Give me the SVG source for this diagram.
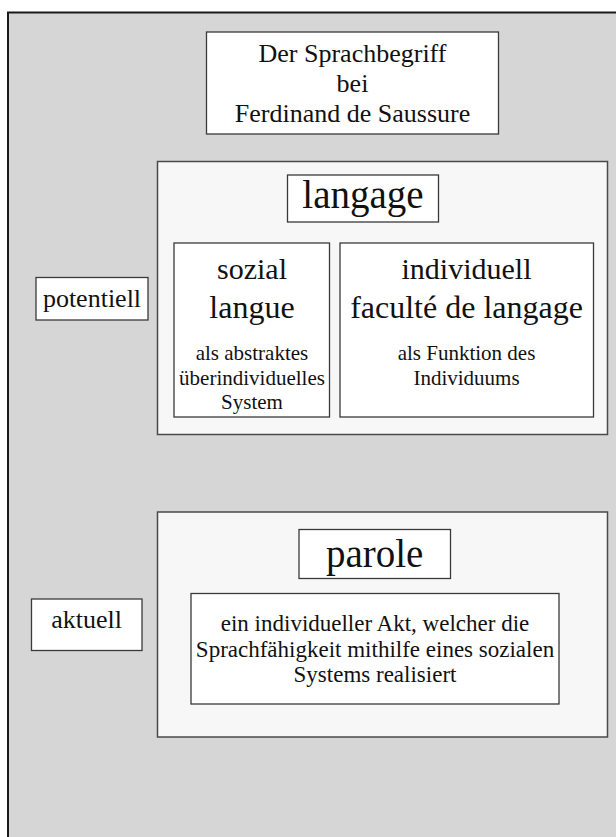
<svg xmlns="http://www.w3.org/2000/svg" width="616" height="837" viewBox="0 0 616 837">
  <style>
    .frame { fill: #d6d6d6; stroke: #1a1a1a; stroke-width: 2; }
    .panel { fill: #f7f7f7; stroke: #4a4a4a; stroke-width: 1.5; }
    .box { fill: #ffffff; stroke: #3a3a3a; stroke-width: 1.3; }
    text { font-family: "Liberation Serif", "Times New Roman", serif; fill: #111; text-anchor: middle; }
    .t26 { font-size: 26px; }
    .t39 { font-size: 39px; }
    .t30 { font-size: 30px; }
    .t32 { font-size: 32px; }
    .t21 { font-size: 21px; }
    .t23 { font-size: 23px; }
  </style>

  <rect width="616" height="837" fill="#ffffff"/>
  <!-- outer frame, open to the right and bottom -->
  <rect class="frame" x="8" y="12.5" width="620" height="840"/>

  <g id="title">
    <rect class="box" x="206.5" y="32" width="292" height="102"/>
    <text class="t26" x="352.5" y="61.5">Der Sprachbegriff</text>
    <text class="t26" x="352.5" y="91.5">bei</text>
    <text class="t26" x="352.5" y="121.5">Ferdinand de Saussure</text>
  </g>

  <g id="langage-panel">
    <rect class="panel" x="157.5" y="161.5" width="450" height="273"/>
  </g>

  <g id="langage">
    <rect class="box" x="287.5" y="175" width="151" height="47"/>
    <text class="t39" x="363" y="208">langage</text>
  </g>

  <g id="langue">
    <rect class="box" x="174" y="243" width="155.5" height="174"/>
    <text class="t30" x="252" y="279">sozial</text>
    <text class="t32" x="252" y="318">langue</text>
    <text class="t21" x="252" y="360">als abstraktes</text>
    <text class="t21" x="252" y="385">überindividuelles</text>
    <text class="t21" x="252" y="409">System</text>
  </g>

  <g id="faculte">
    <rect class="box" x="340" y="243" width="253.5" height="174"/>
    <text class="t30" x="466.5" y="279">individuell</text>
    <text class="t32" x="466.5" y="318">faculté de langage</text>
    <text class="t21" x="466.5" y="360">als Funktion des</text>
    <text class="t21" x="466.5" y="385">Individuums</text>
  </g>

  <g id="potentiell">
    <rect class="box" x="36" y="277.5" width="112" height="42.5"/>
    <text class="t26" x="92" y="307">potentiell</text>
  </g>

  <g id="parole-panel">
    <rect class="panel" x="157.5" y="512" width="450" height="225"/>
  </g>

  <g id="parole">
    <rect class="box" x="299" y="529.5" width="151.5" height="49"/>
    <text class="t39" x="374.7" y="566.5">parole</text>
  </g>

  <g id="parole-def">
    <rect class="box" x="191" y="593.5" width="368" height="110.5"/>
    <text class="t23" x="375" y="631">ein individueller Akt, welcher die</text>
    <text class="t23" x="375" y="657">Sprachfähigkeit mithilfe eines sozialen</text>
    <text class="t23" x="375" y="682">Systems realisiert</text>
  </g>

  <g id="aktuell">
    <rect class="box" x="31.5" y="599" width="110.5" height="51.5"/>
    <text class="t26" x="86.7" y="628">aktuell</text>
  </g>
</svg>
